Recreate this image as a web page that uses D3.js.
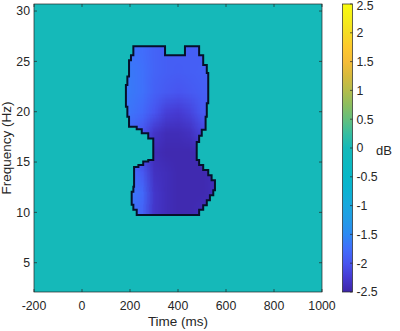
<!DOCTYPE html>
<html>
<head>
<meta charset="utf-8">
<script src="https://cdn.jsdelivr.net/npm/d3@7"></script>
<style>
  body { margin: 0; background: #fff; }
  svg { display: block; font-family: "Liberation Sans", Arial, sans-serif; }
</style>
</head>
<body>
<svg id="chart" width="400" height="331"></svg>
<script>
// tick values
var timeTicks = [-200, 0, 200, 400, 600, 800, 1000];
var freqTicks = [5, 10, 15, 20, 25, 30];
var dbTicks = [-2.5, -2, -1.5, -1, -0.5, 0, 0.5, 1, 1.5, 2, 2.5];

// grid of power values (dB) inside the cluster
var gridTimes = [200, 250, 300, 350, 400, 450, 500, 550];
var gridFreqs = [26, 24, 22, 20, 18, 16, 14, 12, 10];
var gridValues = [
    [-1.7, -1.75, -1.85, -1.9, -1.9, -1.9, -1.9, -1.9],
    [-1.65, -1.72, -1.85, -1.9, -1.92, -1.9, -1.88, -1.88],
    [-1.65, -1.72, -1.88, -1.95, -2.0, -1.95, -1.9, -1.9],
    [-1.7, -1.8, -2.0, -2.2, -2.25, -2.15, -1.95, -1.95],
    [-1.85, -2.0, -2.3, -2.4, -2.4, -2.35, -2.15, -2.1],
    [-2.0, -2.2, -2.4, -2.45, -2.45, -2.45, -2.4, -2.35],
    [-1.75, -1.95, -2.35, -2.4, -2.45, -2.45, -2.45, -2.4],
    [-1.65, -1.8, -2.3, -2.4, -2.45, -2.45, -2.45, -2.4],
    [-1.7, -1.85, -2.3, -2.4, -2.45, -2.45, -2.4, -2.4]
];
var backgroundValue = 0;

// outline of the significant cluster, [time ms, freq Hz]
var clusterOutline = [
    [214, 26.5], [346, 26.5], [346, 25.6], [429, 25.6], [429, 26.5], [488, 26.5],
    [488, 25.6], [505, 25.6], [505, 24.65], [520, 24.65], [520, 23.85], [526, 23.85],
    [526, 20.85], [520, 20.85], [520, 19.5], [515, 19.5], [515, 18.2], [499, 18.2],
    [499, 17.6], [488, 17.6], [488, 17.0], [478, 17.0], [478, 15.2], [488, 15.2],
    [488, 14.7], [505, 14.7], [505, 14.2], [526, 14.2], [526, 13.7], [540, 13.7],
    [540, 13.2], [554, 13.2], [554, 12.2], [547, 12.2], [547, 11.7], [533, 11.7],
    [533, 11.2], [520, 11.2], [520, 10.7], [505, 10.7], [505, 10.25], [488, 10.25],
    [488, 9.75], [228, 9.75], [228, 10.25], [214, 10.25], [214, 10.75], [207, 10.75],
    [207, 12.05], [214, 12.05], [214, 12.55], [217, 12.55], [217, 14.5], [235, 14.5],
    [235, 14.7], [255, 14.7], [255, 15.05], [276, 15.05], [276, 15.2], [297, 15.2],
    [297, 17.35], [276, 17.35], [276, 17.85], [249, 17.85], [249, 18.25], [228, 18.25],
    [228, 18.5], [196, 18.5], [196, 19.5], [189, 19.5], [189, 20.5], [183, 20.5],
    [183, 22.65], [189, 22.65], [189, 23.5], [196, 23.5], [196, 25.1], [204, 25.1],
    [204, 25.6], [214, 25.6]
];

// parula-like colormap stops
var parulaStops = ["#3e26a8", "#463ad2", "#4855f0", "#416efc", "#2d8af3", "#239be6",
    "#19a8de", "#0cb2d2", "#08b8c8", "#0db9c0", "#15b9b9", "#37bea0", "#64bf7d",
    "#8cbe5f", "#b4bd4b", "#d7ba3c", "#f5bc37", "#fdc82d", "#f5dc23", "#f5ee19", "#f9fb0e"];

function draw_chart() {
    var svg = d3.select("#chart");
    var pLeft = 34, pRight = 322, pTop = 4, pBottom = 292;
    var textColor = "#262626";

    var x = d3.scaleLinear().domain([-200, 1000]).range([pLeft, pRight]);
    var y = d3.scaleLinear().domain([2.09, 30.7]).range([pBottom, pTop]);
    var colorPos = d3.scaleLinear().domain([-2.5, 2.5]).range([0, 1]).clamp(true);
    var parula = d3.scaleLinear()
        .domain(parulaStops.map(function(d, i) { return i / (parulaStops.length - 1); }))
        .range(parulaStops)
        .interpolate(d3.interpolateRgb);
    function color(v) { return parula(colorPos(v)); }

    // background (masked = 0 dB)
    svg.append("rect")
        .attr("x", pLeft).attr("y", pTop)
        .attr("width", pRight - pLeft).attr("height", pBottom - pTop)
        .attr("fill", color(backgroundValue));

    // cluster image, smoothed by the browser, clipped to the outline
    var line = d3.line()
        .x(function(d) { return x(d[0]); })
        .y(function(d) { return y(d[1]); })
        .curve(d3.curveLinearClosed);

    var defs = svg.append("defs");
    defs.append("clipPath")
        .attr("id", "cluster_clip")
        .append("path")
            .attr("d", line(clusterOutline));

    var canvas = document.createElement("canvas");
    canvas.width = gridTimes.length;
    canvas.height = gridFreqs.length;
    var ctx = canvas.getContext("2d");
    gridValues.forEach(function(row, j) {
        row.forEach(function(v, i) {
            ctx.fillStyle = color(v);
            ctx.fillRect(i, j, 1, 1);
        });
    });
    var dt = gridTimes[1] - gridTimes[0];
    var df = gridFreqs[0] - gridFreqs[1];
    var x0 = x(gridTimes[0] - dt / 2), x1 = x(gridTimes[gridTimes.length - 1] + dt / 2);
    var y0 = y(gridFreqs[0] + df / 2), y1 = y(gridFreqs[gridFreqs.length - 1] - df / 2);

    svg.append("g")
        .attr("clip-path", "url(#cluster_clip)")
        .append("image")
            .attr("href", canvas.toDataURL())
            .attr("x", x0).attr("y", y0)
            .attr("width", x1 - x0).attr("height", y1 - y0)
            .attr("preserveAspectRatio", "none");

    svg.append("path")
        .attr("d", line(clusterOutline))
        .attr("fill", "none")
        .attr("stroke", "#06102a")
        .attr("stroke-width", 2)
        .attr("stroke-linejoin", "miter");

    // axes box with inward ticks
    var frame = svg.append("g")
        .attr("stroke", textColor)
        .attr("stroke-width", 0.7)
        .attr("fill", "none");
    frame.append("rect")
        .attr("x", pLeft).attr("y", pTop)
        .attr("width", pRight - pLeft).attr("height", pBottom - pTop);
    timeTicks.forEach(function(t) {
        frame.append("line").attr("x1", x(t)).attr("x2", x(t)).attr("y1", pBottom).attr("y2", pBottom - 3);
        frame.append("line").attr("x1", x(t)).attr("x2", x(t)).attr("y1", pTop).attr("y2", pTop + 3);
    });
    freqTicks.forEach(function(f) {
        frame.append("line").attr("x1", pLeft).attr("x2", pLeft + 3).attr("y1", y(f)).attr("y2", y(f));
        frame.append("line").attr("x1", pRight).attr("x2", pRight - 3).attr("y1", y(f)).attr("y2", y(f));
    });

    svg.append("g")
        .selectAll("text")
        .data(timeTicks)
        .enter().append("text")
            .attr("x", function(d) { return x(d); })
            .attr("y", 310)
            .attr("text-anchor", "middle")
            .attr("font-size", 12.3)
            .attr("fill", textColor)
            .text(function(d) { return d; });

    svg.append("g")
        .selectAll("text")
        .data(freqTicks)
        .enter().append("text")
            .attr("x", 30)
            .attr("y", function(d) { return y(d) + 4.4; })
            .attr("text-anchor", "end")
            .attr("font-size", 12.3)
            .attr("fill", textColor)
            .text(function(d) { return d; });

    svg.append("text")
        .attr("x", (pLeft + pRight) / 2)
        .attr("y", 326)
        .attr("text-anchor", "middle")
        .attr("font-size", 13.5)
        .attr("fill", textColor)
        .text("Time (ms)");

    svg.append("text")
        .attr("transform", "translate(11," + ((pTop + pBottom) / 2) + ") rotate(-90)")
        .attr("text-anchor", "middle")
        .attr("font-size", 13.5)
        .attr("fill", textColor)
        .text("Frequency (Hz)");

    // colorbar
    var cbLeft = 342.5, cbRight = 352.5;
    var cb = d3.scaleLinear().domain([-2.5, 2.5]).range([pBottom, pTop]);
    var grad = defs.append("linearGradient")
        .attr("id", "cb_grad")
        .attr("x1", 0).attr("y1", 1).attr("x2", 0).attr("y2", 0);
    parulaStops.forEach(function(c, i) {
        grad.append("stop")
            .attr("offset", i / (parulaStops.length - 1))
            .attr("stop-color", c);
    });
    svg.append("rect")
        .attr("x", cbLeft).attr("y", pTop)
        .attr("width", cbRight - cbLeft).attr("height", pBottom - pTop)
        .attr("fill", "url(#cb_grad)")
        .attr("stroke", textColor)
        .attr("stroke-width", 0.7);

    svg.append("g")
        .attr("stroke", textColor)
        .attr("stroke-width", 0.7)
        .selectAll("line")
        .data(dbTicks)
        .enter().append("line")
            .attr("x1", cbRight).attr("x2", cbRight - 2.5)
            .attr("y1", function(d) { return cb(d); })
            .attr("y2", function(d) { return cb(d); });

    svg.append("g")
        .selectAll("text")
        .data(dbTicks)
        .enter().append("text")
            .attr("x", 356.5)
            .attr("y", function(d) { return Math.max(cb(d) + 4.4, 9.5); })
            .attr("font-size", 12.3)
            .attr("fill", textColor)
            .text(function(d) { return d; });

    svg.append("text")
        .attr("x", 384)
        .attr("y", 155)
        .attr("text-anchor", "middle")
        .attr("font-size", 13)
        .attr("fill", textColor)
        .text("dB");
}

draw_chart();
</script>
</body>
</html>
